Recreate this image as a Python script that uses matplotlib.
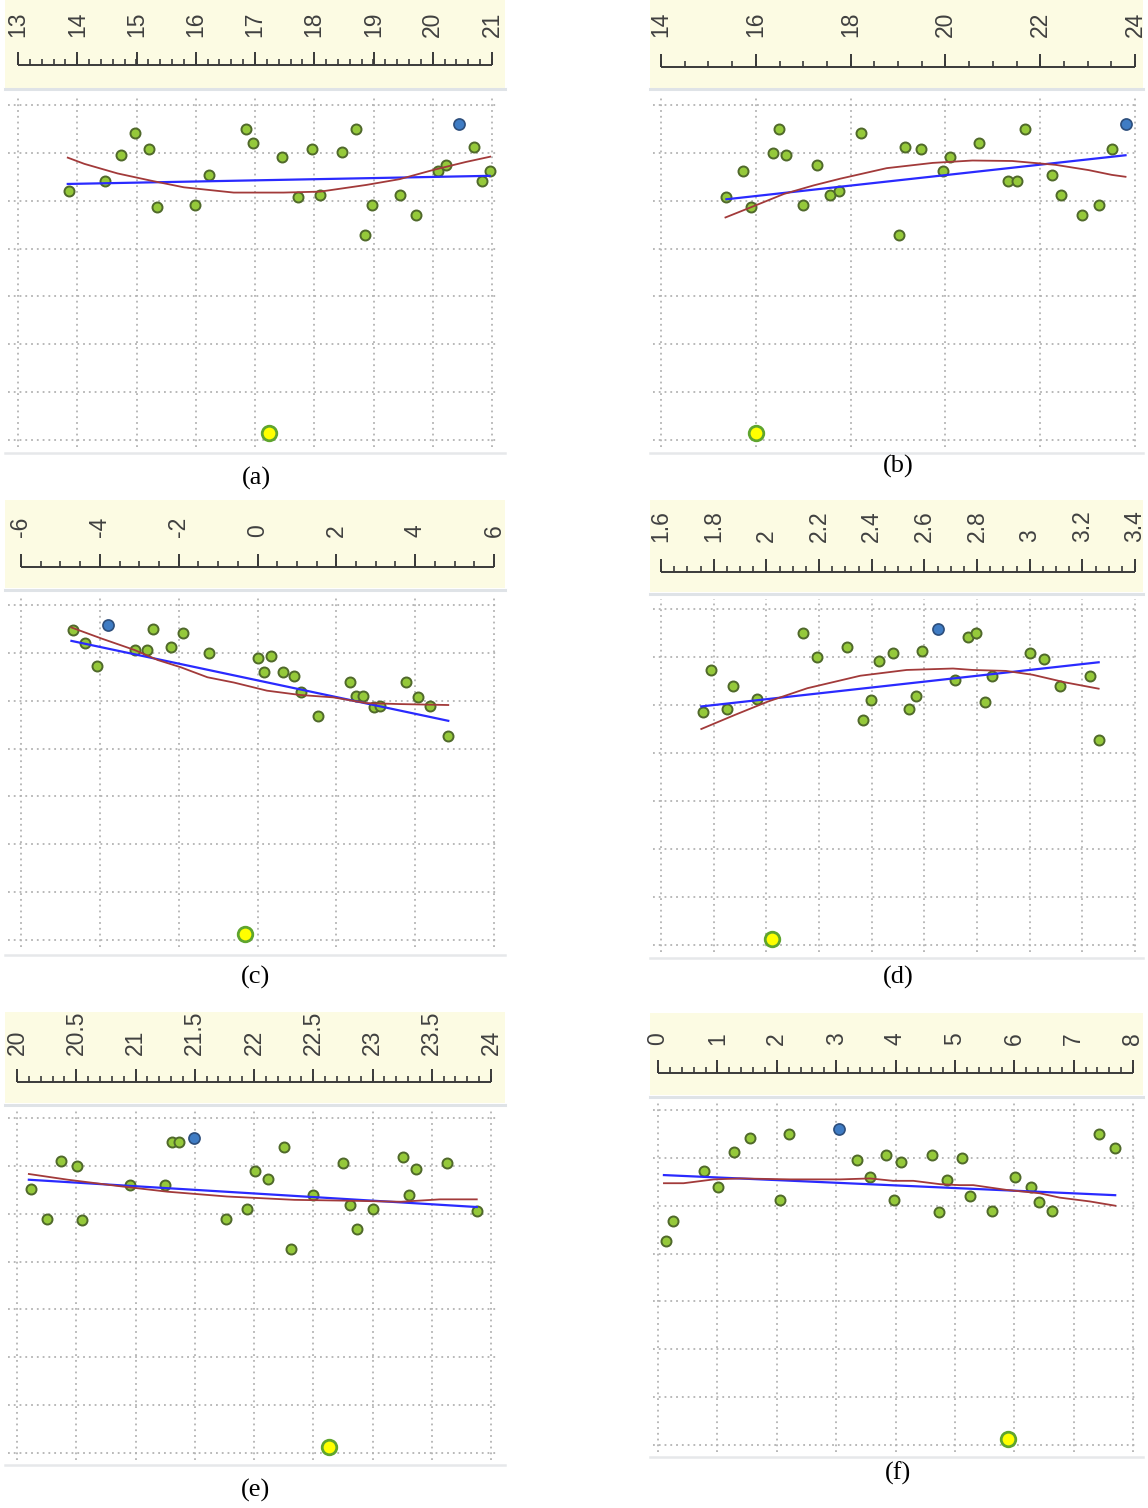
import numpy as np
import matplotlib.pyplot as plt

W, H = 1148, 1508

# ---------------- panel (a) ----------------
a_ticks = [13, 14, 15, 16, 17, 18, 19, 20, 21]
a_labels = ["13", "14", "15", "16", "17", "18", "19", "20", "21"]
a_x = [13.86, 14.47, 14.74, 14.97, 15.21, 15.34, 15.99, 16.22, 16.85, 16.96, 17.46, 17.73, 17.96,
       18.10, 18.47, 18.71, 18.85, 18.98, 19.45, 19.71, 20.09, 20.23, 20.70, 20.83, 20.97]
a_y = [5.21, 5.42, 5.96, 6.42, 6.08, 4.87, 4.91, 5.54, 6.50, 6.21, 5.92, 5.08, 6.09,
       5.12, 6.01, 6.50, 4.28, 4.91, 5.12, 4.70, 5.63, 5.75, 6.13, 5.42, 5.63]
a_blue = (20.45, 6.60)
a_yellow = (17.23, 0.14)
a_fit_x = [13.84, 20.96]
a_fit_y = [5.35, 5.52]
a_smooth_x = [13.84, 14.12, 14.68, 15.24, 15.80, 16.64, 17.48, 18.10, 18.88, 19.44, 20.00, 20.56, 20.97]
a_smooth_y = [5.90, 5.77, 5.57, 5.42, 5.28, 5.17, 5.17, 5.19, 5.33, 5.45, 5.64, 5.81, 5.92]

# ---------------- panel (b) ----------------
b_ticks = [14, 16, 18, 20, 22, 24]
b_labels = ["14", "16", "18", "20", "22", "24"]
b_x = [15.38, 15.73, 15.89, 16.36, 16.49, 16.64, 16.99, 17.29, 17.57, 17.76, 18.21, 19.02, 19.14,
       19.48, 19.94, 20.10, 20.70, 21.33, 21.50, 21.67, 22.25, 22.43, 22.89, 23.23, 23.52]
b_y = [5.08, 5.62, 4.87, 6.00, 6.50, 5.96, 4.91, 5.75, 5.11, 5.21, 6.42, 4.28, 6.13,
       6.09, 5.63, 5.92, 6.21, 5.42, 5.42, 6.50, 5.54, 5.11, 4.70, 4.91, 6.09]
b_blue = (23.80, 6.60)
b_yellow = (16.01, 0.14)
b_fit_x = [15.38, 23.80]
b_fit_y = [5.03, 5.95]
b_smooth_x = [15.36, 15.89, 16.59, 17.22, 17.78, 18.76, 19.73, 20.57, 21.41, 22.32, 23.02, 23.51, 23.80]
b_smooth_y = [4.65, 4.86, 5.14, 5.32, 5.46, 5.68, 5.79, 5.84, 5.83, 5.75, 5.64, 5.54, 5.50]

# ---------------- panel (c) ----------------
c_ticks = [-6, -4, -2, 0, 2, 4, 6]
c_labels = ["-6", "-4", "-2", "0", "2", "4", "6"]
c_x = [-4.68, -4.37, -4.07, -3.11, -2.81, -2.65, -2.20, -1.90, -1.24, 0.01, 0.33, 0.17, 0.64,
       0.93, 1.10, 1.54, 2.34, 2.51, 2.68, 2.96, 3.12, 3.76, 4.07, 4.38, 4.84]
c_y = [6.48, 6.20, 5.73, 6.07, 6.06, 6.49, 6.12, 6.41, 5.99, 5.89, 5.94, 5.61, 5.61,
       5.52, 5.19, 4.68, 5.40, 5.10, 5.10, 4.86, 4.90, 5.40, 5.07, 4.89, 4.27]
c_blue = (-3.80, 6.59)
c_yellow = (-0.32, 0.12)
c_fit_x = [-4.72, 4.84]
c_fit_y = [6.25, 4.58]
c_smooth_x = [-4.72, -3.96, -3.12, -2.53, -1.95, -1.27, -0.60, 0.24, 1.08, 1.92, 2.76, 3.60, 4.84]
c_smooth_y = [6.53, 6.30, 6.06, 5.85, 5.70, 5.49, 5.38, 5.21, 5.12, 5.07, 4.95, 4.93, 4.91]

# ---------------- panel (d) ----------------
d_ticks = [1.6, 1.8, 2.0, 2.2, 2.4, 2.6, 2.8, 3.0, 3.2, 3.4]
d_labels = ["1.6", "1.8", "2", "2.2", "2.4", "2.6", "2.8", "3", "3.2", "3.4"]
d_x = [1.760, 1.791, 1.851, 1.875, 1.965, 2.139, 2.193, 2.306, 2.367, 2.397, 2.426, 2.480, 2.540,
       2.570, 2.593, 2.715, 2.765, 2.797, 2.829, 2.857, 3.001, 3.056, 3.117, 3.230, 3.262]
d_y = [4.85, 5.73, 4.91, 5.40, 5.12, 6.49, 5.99, 6.20, 4.69, 5.11, 5.91, 6.08, 4.91,
       5.19, 6.12, 5.52, 6.41, 6.49, 5.07, 5.61, 6.08, 5.95, 5.40, 5.61, 4.27]
d_blue = (2.650, 6.59)
d_yellow = (2.020, 0.13)
d_fit_x = [1.753, 3.262]
d_fit_y = [4.97, 5.89]
d_smooth_x = [1.753, 1.879, 2.005, 2.156, 2.357, 2.533, 2.709, 2.784, 2.910, 3.011, 3.136, 3.262]
d_smooth_y = [4.50, 4.79, 5.07, 5.35, 5.61, 5.73, 5.76, 5.73, 5.71, 5.63, 5.47, 5.34]

# ---------------- panel (e) ----------------
e_ticks = [20, 20.5, 21, 21.5, 22, 22.5, 23, 23.5, 24]
e_labels = ["20", "20.5", "21", "21.5", "22", "22.5", "23", "23.5", "24"]
e_x = [20.12, 20.25, 20.37, 20.51, 20.55, 20.95, 21.25, 21.31, 21.37, 21.76, 21.94, 22.01, 22.12,
       22.25, 22.31, 22.50, 22.75, 22.81, 22.87, 23.00, 23.26, 23.31, 23.37, 23.63, 23.88]
e_y = [5.52, 4.89, 6.11, 5.99, 4.86, 5.60, 5.60, 6.49, 6.49, 4.89, 5.10, 5.90, 5.73,
       6.40, 4.26, 5.39, 6.06, 5.18, 4.68, 5.10, 6.19, 5.39, 5.94, 6.06, 5.06]
e_blue = (21.49, 6.59)
e_yellow = (22.63, 0.13)
e_fit_x = [20.10, 23.88]
e_fit_y = [5.71, 5.14]
e_smooth_x = [20.10, 20.43, 20.85, 21.27, 21.77, 22.34, 22.84, 23.24, 23.57, 23.88]
e_smooth_y = [5.83, 5.71, 5.58, 5.46, 5.36, 5.29, 5.27, 5.25, 5.30, 5.30]

# ---------------- panel (f) ----------------
f_ticks = [0, 1, 2, 3, 4, 5, 6, 7, 8]
f_labels = ["0", "1", "2", "3", "4", "5", "6", "7", "8"]
f_x = [0.14, 0.26, 0.77, 1.01, 1.28, 1.55, 2.06, 2.20, 3.35, 3.57, 3.84, 3.98, 4.09,
       4.62, 4.73, 4.86, 5.12, 5.26, 5.63, 6.01, 6.28, 6.41, 6.64, 7.43, 7.70]
f_y = [4.27, 4.69, 5.73, 5.40, 6.12, 6.42, 5.11, 6.49, 5.95, 5.61, 6.07, 5.11, 5.91,
       6.07, 4.86, 5.53, 5.99, 5.20, 4.90, 5.61, 5.40, 5.07, 4.90, 6.49, 6.20]
f_blue = (3.05, 6.60)
f_yellow = (5.90, 0.13)
f_fit_x = [0.10, 7.70]
f_fit_y = [5.64, 5.22]
f_smooth_x = [0.10, 0.43, 0.94, 1.38, 2.23, 3.07, 3.57, 3.96, 4.30, 4.75, 5.08, 5.31, 5.87, 6.43, 6.76, 7.27, 7.70]
f_smooth_y = [5.47, 5.47, 5.55, 5.57, 5.55, 5.55, 5.57, 5.52, 5.52, 5.45, 5.43, 5.43, 5.33, 5.26, 5.17, 5.09, 5.00]

# pixel layout: band (l, t, r, b), ruler baseline, label bottom, grid top/bottom,
# frame top/bottom, first/last tick px, caption (x, y), minor step
layouts = {
    "a": dict(band=(5, 0, 505, 88), base=65, lab=37, grid=(105, 440), frame=(89, 453),
              px=(18, 492), cap=(256, 478), minor=0.2),
    "b": dict(band=(650, 0, 1143, 88), base=67, lab=37, grid=(105, 440), frame=(89, 453),
              px=(661, 1135), cap=(898, 466), minor=0.5),
    "c": dict(band=(5, 500, 505, 588), base=567, lab=537, grid=(605, 940), frame=(590, 955),
              px=(21, 494), cap=(256, 977), minor=0.5),
    "d": dict(band=(650, 500, 1143, 592), base=572, lab=542, grid=(609, 945), frame=(594, 958),
              px=(661, 1135), cap=(898, 977), minor=0.05),
    "e": dict(band=(5, 1012, 505, 1103), base=1082, lab=1055, grid=(1118, 1453), frame=(1105, 1465),
              px=(17, 491), cap=(256, 1490), minor=0.1),
    "f": dict(band=(650, 1013, 1143, 1095), base=1073, lab=1045, grid=(1110, 1445), frame=(1097, 1457),
              px=(658, 1133), cap=(898, 1473), minor=0.2),
}

panels = {
    "a": (a_ticks, a_labels, a_x, a_y, a_blue, a_yellow, a_fit_x, a_fit_y, a_smooth_x, a_smooth_y),
    "b": (b_ticks, b_labels, b_x, b_y, b_blue, b_yellow, b_fit_x, b_fit_y, b_smooth_x, b_smooth_y),
    "c": (c_ticks, c_labels, c_x, c_y, c_blue, c_yellow, c_fit_x, c_fit_y, c_smooth_x, c_smooth_y),
    "d": (d_ticks, d_labels, d_x, d_y, d_blue, d_yellow, d_fit_x, d_fit_y, d_smooth_x, d_smooth_y),
    "e": (e_ticks, e_labels, e_x, e_y, e_blue, e_yellow, e_fit_x, e_fit_y, e_smooth_x, e_smooth_y),
    "f": (f_ticks, f_labels, f_x, f_y, f_blue, f_yellow, f_fit_x, f_fit_y, f_smooth_x, f_smooth_y),
}

fig = plt.figure(figsize=(W / 100, H / 100), dpi=100)


def px_axes(l, t, r, b):
    ax = fig.add_axes([l / W, 1 - b / H, (r - l) / W, (b - t) / H])
    ax.set_xticks([])
    ax.set_yticks([])
    for s in ax.spines.values():
        s.set_visible(False)
    return ax


for key, (ticks, labels, xs, ys, blue, yellow, fx, fy, sx, sy) in panels.items():
    g = layouts[key]
    bl, bt, br, bb = g["band"]
    p0, p1 = g["px"]
    x0, x1 = ticks[0], ticks[-1]
    k = (x1 - x0) / (p1 - p0)
    to_x = lambda p: x0 + (p - p0) * k
    xlim = (to_x(bl), to_x(br))

    # ruler band
    ax = px_axes(bl, bt, br, bb)
    ax.set_facecolor("#fcfbe3")
    ax.set_xlim(*xlim)
    ax.set_ylim(bb, bt)
    base = g["base"]
    minor = np.arange(x0, x1 + 1e-9, g["minor"])
    ax.plot([x0, x1], [base, base], color="#3a3a3a", lw=1.4, solid_capstyle="butt")
    ax.vlines(minor, base, base - 6, color="#3a3a3a", lw=1.2)
    ax.vlines(ticks, base, base - 13, color="#3a3a3a", lw=1.4)
    for t, s in zip(ticks, labels):
        ax.text(t, g["lab"], s, rotation=90, ha="center", va="bottom",
                fontsize=16.5, family="Liberation Sans", color="#404040")

    # plot area
    ft, fb = g["frame"]
    gt, gb = g["grid"]
    ppu = (gb - gt) / 7.0
    ax = px_axes(bl, ft, br, fb)
    ax.set_xlim(*xlim)
    ax.set_ylim(-(fb - gb) / ppu, 7 + (gt - ft) / ppu)
    ax.spines["top"].set_visible(True)
    ax.spines["top"].set_color("#dfe3e7")
    ax.spines["top"].set_linewidth(2.2)
    ax.spines["bottom"].set_visible(True)
    ax.spines["bottom"].set_color("#e6e8ea")
    ax.spines["bottom"].set_linewidth(1.8)

    dot = (0, (1, 2.2))
    ax.vlines(ticks, -7 / ppu, 7 + 10 / ppu, color="#b3b3b3", lw=1.3, linestyles=dot)
    ax.hlines(range(8), to_x(bl + 3), to_x(br - 7), color="#b3b3b3", lw=1.3, linestyles=dot)

    ax.scatter(xs, ys, s=52, color="#95c93a", edgecolors="#50692b", linewidths=1.4, zorder=3)
    ax.scatter([blue[0]], [blue[1]], s=64, color="#3f7cc4", edgecolors="#2d4e7c", linewidths=1.2, zorder=3)
    ax.scatter([yellow[0]], [yellow[1]], s=110, color="#ffff00", edgecolors="#5fa52e", linewidths=2.0, zorder=3)
    ax.plot(fx, fy, color="#2a2aff", lw=1.6, zorder=4)
    ax.plot(sx, sy, color="#a23a3a", lw=1.3, zorder=4)

    cx, cy = g["cap"]
    fig.text(cx / W, 1 - cy / H, "(%s)" % key, ha="center", va="center",
             fontsize=19, family="Liberation Serif")

fig.savefig("out.png", dpi=100)
